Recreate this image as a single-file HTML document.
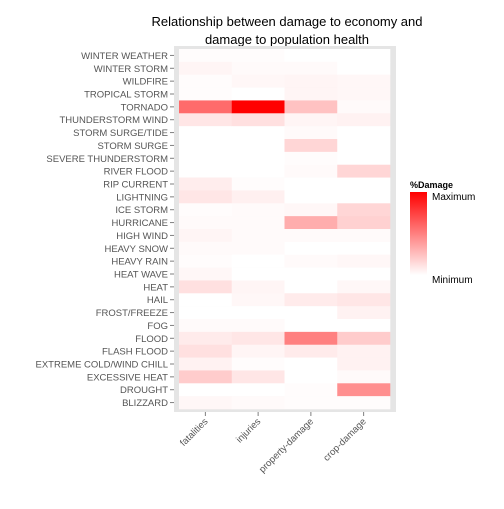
<!DOCTYPE html>
<html><head><meta charset="utf-8"><style>
body{margin:0;background:#fff;}
svg{font-family:"Liberation Sans",sans-serif;}
</style></head><body>
<svg id="chart" width="504" height="504" viewBox="0 0 504 504">
<defs><linearGradient id="lg" x1="0" y1="0" x2="0" y2="1"><stop offset="0" stop-color="#ff0000"/><stop offset="1" stop-color="#ffffff"/></linearGradient></defs>
<text x="287" y="26" text-anchor="middle" font-size="13" fill="#000">Relationship between damage to economy and</text>
<text x="287" y="44" text-anchor="middle" font-size="13" fill="#000">damage to population health</text>
<rect x="174" y="46" width="222" height="366" fill="#e5e5e5"/>
<g id="cells"></g><g id="yaxis"></g><g id="xaxis"></g>
<text x="410" y="188" font-size="9" font-weight="bold" fill="#000">%Damage</text>
<rect x="410" y="192" width="17" height="83" fill="url(#lg)"/>
<text x="432" y="200" font-size="10" fill="#000">Maximum</text>
<text x="432" y="283" font-size="10" fill="#000">Minimum</text>
</svg>
<script>
const categories=["WINTER WEATHER","WINTER STORM","WILDFIRE","TROPICAL STORM","TORNADO","THUNDERSTORM WIND","STORM SURGE/TIDE","STORM SURGE","SEVERE THUNDERSTORM","RIVER FLOOD","RIP CURRENT","LIGHTNING","ICE STORM","HURRICANE","HIGH WIND","HEAVY SNOW","HEAVY RAIN","HEAT WAVE","HEAT","HAIL","FROST/FREEZE","FOG","FLOOD","FLASH FLOOD","EXTREME COLD/WIND CHILL","EXCESSIVE HEAT","DROUGHT","BLIZZARD"];
const measures=["fatalities","injuries","property-damage","crop-damage"];
const fatalities=[.01,.04,.01,.01,.58,.1,0,0,0,0,.07,.1,.01,.02,.04,.02,.01,.03,.12,0,0,.02,.08,.12,.05,.2,0,.03];
const injuries=[.01,.02,.03,0,1.0,.12,0,0,0,0,.01,.06,.02,.02,.02,.02,0,0,.04,.03,0,.02,.1,.04,.01,.1,0,.02];
const propertyDamage=[0,.02,.04,.04,.24,.04,.02,.16,.01,.02,0,0,.03,.32,.02,0,.02,0,0,.08,0,0,.5,.08,0,0,.01,.01];
const cropDamage=[0,0,.03,.03,.02,.05,0,0,0,.16,0,0,.16,.18,.02,0,.03,0,.03,.1,.05,0,.2,.05,.05,.02,.44,.01];
const series=[fatalities,injuries,propertyDamage,cropDamage];
const NS="http://www.w3.org/2000/svg";
const x0=179,cw=52.75,y0=49,rh=360/28;
function xPos(j){return x0+j*cw;}
function yPos(i){return y0+i*rh;}
function col(v){const c=Math.round(255*(1-Math.max(0,Math.min(1,v))));return `rgb(255,${c},${c})`;}
function mk(t,a,p){const e=document.createElementNS(NS,t);for(const k in a)e.setAttribute(k,a[k]);p.appendChild(e);return e;}
const cells=document.getElementById('cells'),ya=document.getElementById('yaxis'),xa=document.getElementById('xaxis');
series.forEach((s,j)=>{s.forEach((v,i)=>{
 const r=mk('rect',{x:xPos(j),y:yPos(i),width:cw+0.3,height:rh+0.3,fill:col(v)},cells);
 
 
});});
categories.forEach((c,i)=>{
 const yc=yPos(i)+rh/2;
 const tk=mk('line',{x1:170,x2:174,y1:yc,y2:yc,stroke:'#7f7f7f','stroke-width':1},ya);
 
 
 const t=mk('text',{x:168,y:yc+3.5,'text-anchor':'end','font-size':9.5,fill:'#555'},ya);
 t.textContent=c;
 
 
});
measures.forEach((m,j)=>{
 const xc=xPos(j)+cw/2;
 const tk=mk('line',{x1:xc,x2:xc,y1:412,y2:416,stroke:'#7f7f7f','stroke-width':1},xa);
 
 
 const t=mk('text',{x:xc+3,y:422,'text-anchor':'end','font-size':9.5,fill:'#555',transform:`rotate(-45 ${xc+3} 422)`},xa);
 t.textContent=m;
 
 
});
</script>
</body></html>
